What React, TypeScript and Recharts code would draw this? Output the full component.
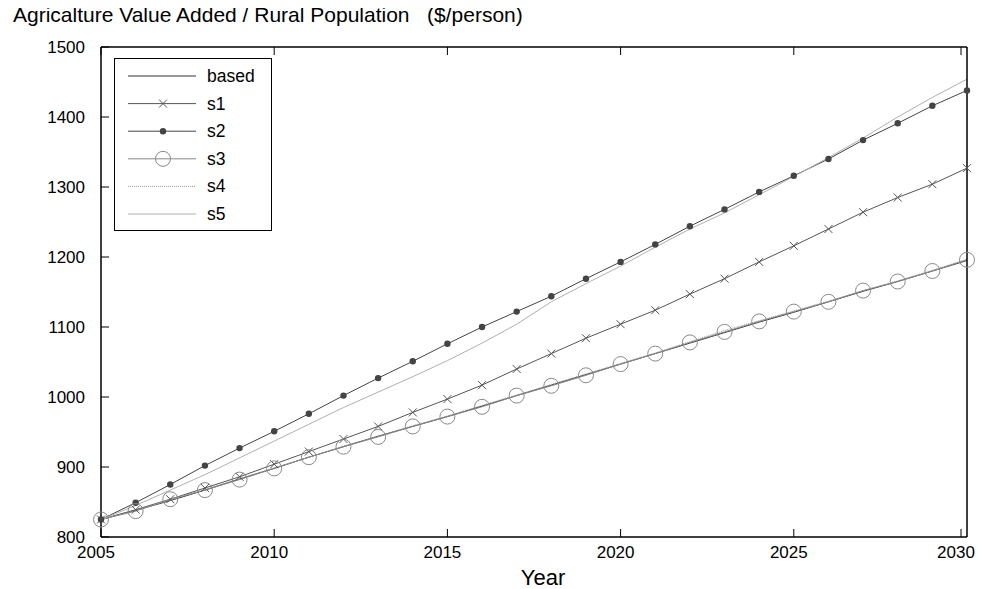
import { Line, LineChart, XAxis, YAxis } from "recharts";

const years = [
  2005, 2006, 2007, 2008, 2009, 2010, 2011, 2012, 2013, 2014, 2015, 2016, 2017,
  2018, 2019, 2020, 2021, 2022, 2023, 2024, 2025, 2026, 2027, 2028, 2029, 2030,
];
const based = [
  825, 838, 852, 867, 883, 898, 914, 929, 944, 958, 972, 987, 1002, 1017, 1032,
  1047, 1062, 1077, 1092, 1107, 1121, 1136, 1151, 1165, 1180, 1195,
];
const s1 = [
  825, 839, 854, 870, 886, 904, 922, 940, 958, 978, 997, 1017, 1040, 1062, 1084,
  1104, 1124, 1147, 1169, 1193, 1216, 1240, 1264, 1285, 1304, 1327,
];
const s2 = [
  825, 849, 875, 902, 927, 951, 976, 1002, 1027, 1051, 1076, 1100, 1122, 1144,
  1169, 1193, 1218, 1244, 1268, 1293, 1316, 1340, 1367, 1391, 1416, 1438,
];
const s3 = [
  825, 837, 854, 867, 882, 898, 914, 929, 943, 958, 972, 986, 1002, 1016, 1031,
  1047, 1062, 1078, 1093, 1108, 1122, 1136, 1152, 1165, 1180, 1196,
];
const s4 = [
  825, 838, 853, 868, 883, 899, 914, 930, 944, 959, 973, 988, 1003, 1018, 1033,
  1048, 1063, 1079, 1095, 1109, 1123, 1137, 1152, 1166, 1181, 1197,
];
const s5 = [
  825, 845, 867, 889, 913, 937, 961, 985, 1007, 1029, 1052, 1077, 1104, 1136,
  1162, 1187, 1214, 1240, 1263, 1289, 1315, 1342, 1370, 1400, 1428, 1454,
];
const xTicks = [2005, 2010, 2015, 2020, 2025, 2030];
const yTicks = [800, 900, 1000, 1100, 1200, 1300, 1400, 1500];

const data = years.map((year, i) => ({
  year,
  based: based[i],
  s1: s1[i],
  s2: s2[i],
  s3: s3[i],
  s4: s4[i],
  s5: s5[i],
}));

const FONT = '"Liberation Sans", Arial, Helvetica, sans-serif';

const series = [
  { key: "based", color: "#333", dash: undefined, marker: "none" },
  { key: "s1", color: "#555", dash: undefined, marker: "cross" },
  { key: "s2", color: "#444", dash: undefined, marker: "dot" },
  { key: "s3", color: "#888", dash: undefined, marker: "circle" },
  { key: "s4", color: "#999", dash: "1 1", marker: "none" },
  { key: "s5", color: "#b0b0b0", dash: undefined, marker: "none" },
];

function Marker({ kind, cx, cy, color }: { kind: string; cx: number; cy: number; color: string }) {
  if (kind === "cross")
    return (
      <path
        d={`M${cx - 4},${cy - 4}L${cx + 4},${cy + 4}M${cx - 4},${cy + 4}L${cx + 4},${cy - 4}`}
        stroke={color}
        strokeWidth={1}
        fill="none"
      />
    );
  if (kind === "dot") return <circle cx={cx} cy={cy} r={3.2} fill={color} stroke="none" />;
  if (kind === "circle")
    return <circle cx={cx} cy={cy} r={7.5} fill="none" stroke={color} strokeWidth={1} />;
  return <g />;
}

const BottomTick = ({ x, y, payload }: any) => (
  <g>
    <line x1={x} y1={y} x2={x} y2={y - 8} stroke="#000" />
    <text x={x - 5} y={y + 21} textAnchor="middle" fontSize={17} fontFamily={FONT} fill="#000">
      {payload.value}
    </text>
  </g>
);
const TopTick = ({ x, y }: any) => <line x1={x} y1={y} x2={x} y2={y + 8} stroke="#000" />;
const LeftTick = ({ x, y, payload }: any) => (
  <g>
    <line x1={x} y1={y} x2={x + 8} y2={y} stroke="#000" />
    <text x={x - 16} y={y + 6} textAnchor="end" fontSize={17} fontFamily={FONT} fill="#000">
      {payload.value}
    </text>
  </g>
);
const RightTick = ({ x, y }: any) => <line x1={x} y1={y} x2={x - 8} y2={y} stroke="#000" />;

function LegendBox() {
  return (
    <div
      style={{
        position: "absolute",
        left: 106,
        top: 50,
        width: 158,
        height: 173,
        border: "1px solid #000",
        background: "#fff",
        boxSizing: "border-box",
        zIndex: 2,
      }}
    >
      <svg width={156} height={171} style={{ display: "block" }}>
        {series.map((s, i) => {
          const y = 17 + i * 27.6;
          return (
            <g key={s.key}>
              <line x1={13} x2={81} y1={y} y2={y} stroke={s.color} strokeDasharray={s.dash} />
              <Marker kind={s.marker} cx={48} cy={y} color={s.color} />
              <text x={92} y={y + 6} fontSize={17.5} fontFamily={FONT} fill="#000">
                {s.key}
              </text>
            </g>
          );
        })}
      </svg>
    </div>
  );
}

export default function App() {
  return (
    <div style={{ position: "relative", width: 969, height: 581, fontFamily: FONT }}>
      <div
        style={{
          position: "absolute",
          left: 5,
          top: -5,
          fontSize: 21,
          color: "#000",
          whiteSpace: "pre",
          zIndex: 2,
        }}
      >
        {"Agricalture Value Added / Rural Population   ($/person)"}
      </div>
      <LineChart
        width={969}
        height={581}
        data={data}
        margin={{ top: 38, right: 9, bottom: 0, left: 0 }}
      >
        <XAxis
          xAxisId="b"
          dataKey="year"
          type="number"
          domain={[2005, 2030]}
          ticks={xTicks}
          height={52}
          tickSize={0}
          tickMargin={0}
          tick={<BottomTick />}
          tickLine={false}
          axisLine={{ stroke: "#000", strokeWidth: 1.5 }}
        />
        <XAxis
          xAxisId="t"
          orientation="top"
          dataKey="year"
          type="number"
          domain={[2005, 2030]}
          ticks={xTicks}
          height={1}
          tickSize={0}
          tickMargin={0}
          tick={<TopTick />}
          tickLine={false}
          axisLine={{ stroke: "#000", strokeWidth: 1.5 }}
        />
        <YAxis
          yAxisId="l"
          domain={[800, 1500]}
          ticks={yTicks}
          width={93}
          tickSize={0}
          tickMargin={0}
          tick={<LeftTick />}
          tickLine={false}
          axisLine={{ stroke: "#000", strokeWidth: 1.5 }}
        />
        <YAxis
          yAxisId="r"
          orientation="right"
          domain={[800, 1500]}
          ticks={yTicks}
          width={1}
          tickSize={0}
          tickMargin={0}
          tick={<RightTick />}
          tickLine={false}
          axisLine={{ stroke: "#000", strokeWidth: 1.5 }}
        />
        {series.map((s) => (
          <Line
            key={s.key}
            xAxisId="b"
            yAxisId="l"
            dataKey={s.key}
            type="linear"
            stroke={s.color}
            strokeWidth={1}
            strokeDasharray={s.dash}
            isAnimationActive={false}
            dot={
              s.marker === "none"
                ? false
                : (p: any) => (
                    <Marker key={`${s.key}-${p.index}`} kind={s.marker} cx={p.cx} cy={p.cy} color={s.color} />
                  )
            }
            activeDot={false}
          />
        ))}
      </LineChart>
      <div
        style={{
          position: "absolute",
          left: 535,
          top: 557,
          transform: "translateX(-50%)",
          fontSize: 22,
          color: "#000",
          whiteSpace: "pre",
        }}
      >
        Year
      </div>
      <LegendBox />
    </div>
  );
}
